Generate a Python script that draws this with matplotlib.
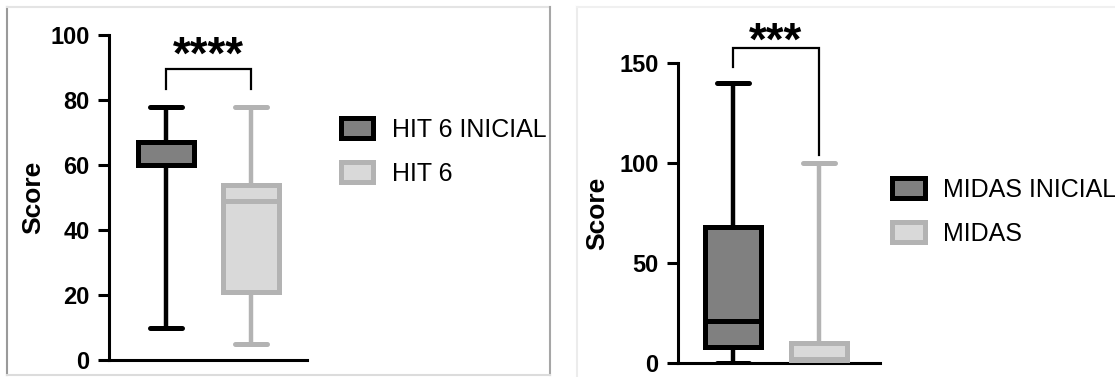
import matplotlib
matplotlib.use('Agg')
import matplotlib.pyplot as plt
from matplotlib.patches import Patch
from matplotlib.lines import Line2D

plt.rcParams['font.family'] = ['Liberation Sans', 'DejaVu Sans']

# --- data ---
hit_names = ['HIT 6 INICIAL', 'HIT 6']
hit_whislo = [10, 5]
hit_q1 = [60, 21]
hit_med = [60, 49]
hit_q3 = [67, 54]
hit_whishi = [78, 78]
hit_stars = '****'
hit_ticks = [0, 20, 40, 60, 80, 100]

midas_names = ['MIDAS INICIAL', 'MIDAS']
midas_whislo = [0, 0]
midas_q1 = [8, 0]
midas_med = [21, 2]
midas_q3 = [68, 10]
midas_whishi = [140, 100]
midas_stars = '***'
midas_ticks = [0, 50, 100, 150]

W, H = 1115, 377
dark_fill, dark_edge = '#808080', '#000000'
light_fill, light_edge = '#d9d9d9', '#b3b3b3'


def px(x, y):
	"""pixel (from top-left) -> figure fraction"""
	return x / W, 1 - y / H


def rect(x0, y0, x1, y1):
	"""axes rectangle given in pixels"""
	return [x0 / W, 1 - y1 / H, (x1 - x0) / W, (y1 - y0) / H]


def draw_panel(ax, whislo, q1, med, q3, whishi, ticks, xlim, bracket, stars, star_y):
	stats = []
	for i in range(len(q1)):
		stats.append(dict(whislo=whislo[i], q1=q1[i], med=med[i], q3=q3[i], whishi=whishi[i]))
	styles = [(dark_fill, dark_edge), (light_fill, light_edge)]
	for i, st in enumerate(stats):
		fc, ec = styles[i]
		ax.bxp([st], positions=[i + 1], widths=0.66, showfliers=False, patch_artist=True,
			   capwidths=0.37,
			   boxprops=dict(facecolor=fc, edgecolor=ec, linewidth=3.6),
			   medianprops=dict(color=ec, linewidth=3.6, solid_capstyle='butt'),
			   whiskerprops=dict(color=ec, linewidth=3.2, solid_capstyle='butt'),
			   capprops=dict(color=ec, linewidth=3.6, solid_capstyle='round'))
	ax.set_xlim(*xlim)
	ax.set_ylim(ticks[0], ticks[-1])
	ax.set_yticks(ticks)
	ax.set_xticks([])
	for s in ['top', 'right']:
		ax.spines[s].set_visible(False)
	for s in ['left', 'bottom']:
		ax.spines[s].set_linewidth(2.2)
		ax.spines[s].set_zorder(0.5)
	ax.tick_params(axis='y', length=8, width=2.2, pad=6, labelsize=17)
	for lb in ax.get_yticklabels():
		lb.set_fontweight('bold')
	ax.set_ylabel('Score', fontsize=19, fontweight='bold')
	# significance bracket
	yl, ytop, yr = bracket
	ax.plot([1, 1, 2, 2], [yl, ytop, ytop, yr], color='black', lw=1.6, clip_on=False,
			solid_joinstyle='miter')
	ax.text(1.5, star_y, stars, ha='center', va='baseline', fontsize=33, fontweight='bold',
			clip_on=False)


fig = plt.figure(figsize=(W / 100, H / 100), dpi=100)

ax1 = fig.add_axes(rect(109, 35, 307, 360))
draw_panel(ax1, hit_whislo, hit_q1, hit_med, hit_q3, hit_whishi, hit_ticks,
		   (0.33, 2.66), (83.5, 89.5, 83.5), hit_stars, 89.5)
ax1.yaxis.set_label_coords(-0.32, 0.5)

ax2 = fig.add_axes(rect(678, 63, 880, 363))
draw_panel(ax2, midas_whislo, midas_q1, midas_med, midas_q3, midas_whishi, midas_ticks,
		   (0.36, 2.71), (148, 157.5, 104), midas_stars, 154)
ax2.yaxis.set_label_coords(-0.34, 0.5)


def add_legend(names, anchor):
	handles = [Patch(facecolor=dark_fill, edgecolor=dark_edge, linewidth=3.6, label=names[0]),
			   Patch(facecolor=light_fill, edgecolor=light_edge, linewidth=3.6, label=names[1])]
	fig.legend(handles=handles, loc='upper left', bbox_to_anchor=px(*anchor), frameon=False,
			   fontsize=18, handlelength=1.3, handleheight=0.85, handletextpad=0.75,
			   labelspacing=0.8, borderpad=0, borderaxespad=0)


add_legend(hit_names, (341, 118))
add_legend(midas_names, (892, 178))

# panel frames (light gray lines round the panels)
frame = [((7, 7), (7, 375), '#9a9a9a'),
		 ((7, 7), (550, 7), '#e4e4e4'),
		 ((550, 7), (550, 375), '#a6a6a6'),
		 ((7, 375), (550, 375), '#dcdcdc'),
		 ((577, 7), (577, 377), '#ececec'),
		 ((577, 7), (1115, 7), '#f0f0f0')]
for p0, p1, c in frame:
	a, b = px(*p0), px(*p1)
	fig.add_artist(Line2D([a[0], b[0]], [a[1], b[1]], color=c, lw=1.5))

fig.savefig('out.png', dpi=100)
